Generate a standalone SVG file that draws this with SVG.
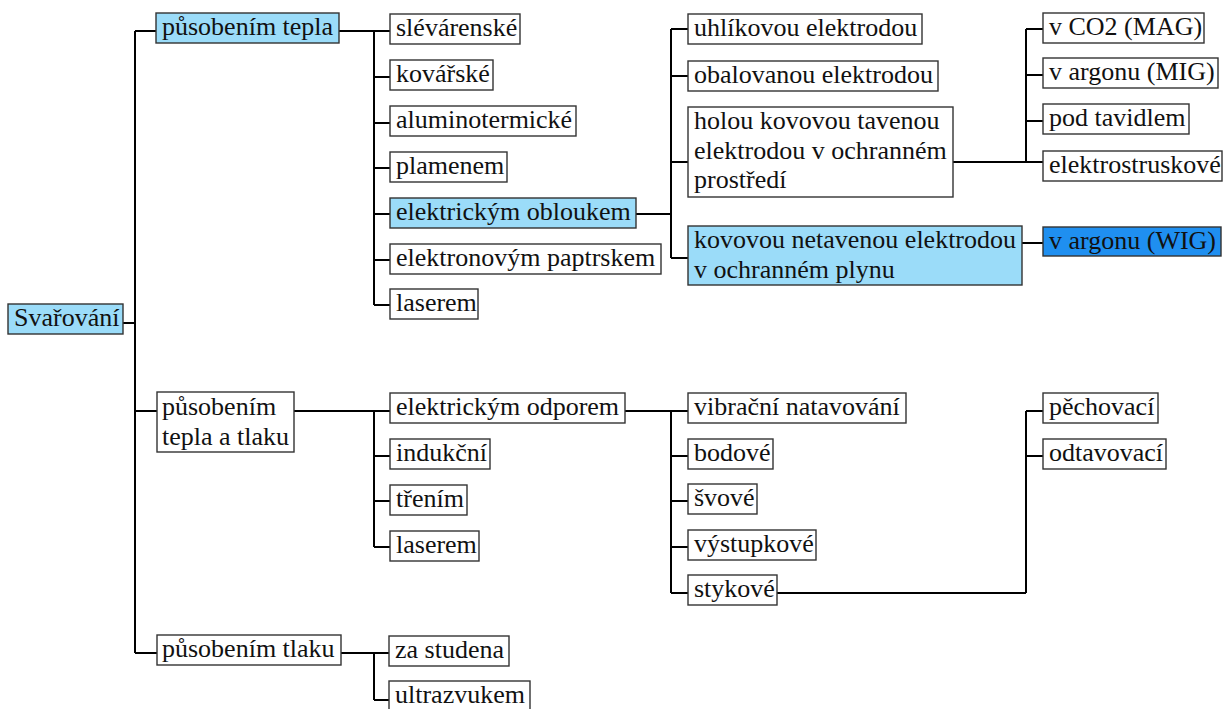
<svg xmlns="http://www.w3.org/2000/svg" width="1228" height="709" viewBox="0 0 1228 709">
<style>
.b{fill:#fff;stroke:#333;stroke-width:1.4}
.lb{fill:#9bdcf9;stroke:#333;stroke-width:1.4}
.db{fill:#1f8ff0;stroke:#333;stroke-width:1.4}
.c{fill:none;stroke:#000;stroke-width:2}
</style>
<rect width="1228" height="709" fill="#fff"/>
<g id="connectors" class="c">
<path d="M135,31V653M135,31H156M123,323H135M135,411H157M135,653H157"/>
<path d="M339,31H390M374,31V305M374,77H390M374,123H390M374,168H390M374,214H390M374,260H390M374,305H390"/>
<path d="M636,214H671M671,29V258M671,29H688M671,76H688M671,162H688M671,258H688"/>
<path d="M953,162H1043M1026,29V162M1026,29H1043M1026,75H1043M1026,121H1043"/>
<path d="M1022,243H1043"/>
<path d="M294,411H390M374,411V547M374,456H390M374,501H390M374,547H390"/>
<path d="M625,411H688M671,411V593M671,456H688M671,501H688M671,547H688M671,593H688"/>
<path d="M777,593H1026M1026,411V593M1026,411H1043M1026,456H1043"/>
<path d="M341,653H389M374,653V700M374,700H389"/>
</g>
<g font-family="Liberation Serif, Times New Roman, serif" font-size="26" fill="#111">
<g id="n-svarovani"><rect class="lb" x="8" y="304" width="115" height="30"/><text x="14" y="326">Svařování</text></g>
<g id="n-tepla"><rect class="lb" x="156" y="13" width="183" height="30"/><text x="162" y="35">působením tepla</text></g>
<g id="n-tepla-tlaku"><rect class="b" x="157" y="392" width="137" height="60"/><text x="162" y="415">působením</text><text x="162" y="445">tepla a tlaku</text></g>
<g id="n-tlaku"><rect class="b" x="157" y="635" width="184" height="30"/><text x="162" y="657">působením tlaku</text></g>

<g id="n-slevarenske"><rect class="b" x="390" y="14" width="130" height="30"/><text x="396" y="36">slévárenské</text></g>
<g id="n-kovarske"><rect class="b" x="390" y="60" width="103" height="30"/><text x="396" y="82">kovářské</text></g>
<g id="n-aluminotermicke"><rect class="b" x="390" y="106" width="186" height="30"/><text x="396" y="128">aluminotermické</text></g>
<g id="n-plamenem"><rect class="b" x="390" y="152" width="117" height="30"/><text x="396" y="174">plamenem</text></g>
<g id="n-obloukem"><rect class="lb" x="390" y="198" width="246" height="30"/><text x="396" y="220">elektrickým obloukem</text></g>
<g id="n-paprskem"><rect class="b" x="390" y="244" width="271" height="30"/><text x="396" y="266">elektronovým paptrskem</text></g>
<g id="n-laserem1"><rect class="b" x="390" y="289" width="88" height="30"/><text x="396" y="311">laserem</text></g>

<g id="n-odporem"><rect class="b" x="390" y="393" width="235" height="30"/><text x="396" y="415">elektrickým odporem</text></g>
<g id="n-indukcni"><rect class="b" x="390" y="439" width="100" height="30"/><text x="396" y="461">indukční</text></g>
<g id="n-trenim"><rect class="b" x="390" y="485" width="77" height="30"/><text x="396" y="507">třením</text></g>
<g id="n-laserem2"><rect class="b" x="390" y="531" width="89" height="30"/><text x="396" y="553">laserem</text></g>
<g id="n-studena"><rect class="b" x="389" y="636" width="120" height="30"/><text x="395" y="658">za studena</text></g>
<g id="n-ultrazvukem"><rect class="b" x="389" y="681" width="141" height="30"/><text x="395" y="703">ultrazvukem</text></g>

<g id="n-uhlikovou"><rect class="b" x="688" y="14" width="234" height="30"/><text x="694" y="36">uhlíkovou elektrodou</text></g>
<g id="n-obalovanou"><rect class="b" x="688" y="61" width="250" height="30"/><text x="694" y="83">obalovanou elektrodou</text></g>
<g id="n-holou"><rect class="b" x="688" y="107" width="265" height="90"/><text x="694" y="129">holou kovovou tavenou</text><text x="694" y="159">elektrodou v ochranném</text><text x="694" y="188">prostředí</text></g>
<g id="n-kovovou"><rect class="lb" x="688" y="226" width="334" height="59"/><text x="694" y="248">kovovou netavenou elektrodou</text><text x="694" y="278">v ochranném plynu</text></g>

<g id="n-vibracni"><rect class="b" x="688" y="393" width="218" height="30"/><text x="694" y="415">vibrační natavování</text></g>
<g id="n-bodove"><rect class="b" x="688" y="439" width="85" height="30"/><text x="694" y="461">bodové</text></g>
<g id="n-svove"><rect class="b" x="688" y="484" width="69" height="30"/><text x="694" y="506">švové</text></g>
<g id="n-vystupkove"><rect class="b" x="688" y="530" width="128" height="30"/><text x="694" y="552">výstupkové</text></g>
<g id="n-stykove"><rect class="b" x="688" y="575" width="89" height="30"/><text x="694" y="597">stykové</text></g>

<g id="n-mag"><rect class="b" x="1043" y="13" width="161" height="30"/><text x="1049" y="35">v CO2 (MAG)</text></g>
<g id="n-mig"><rect class="b" x="1043" y="58" width="175" height="30"/><text x="1049" y="80">v argonu (MIG)</text></g>
<g id="n-tavidlem"><rect class="b" x="1043" y="104" width="146" height="30"/><text x="1049" y="126">pod tavidlem</text></g>
<g id="n-elektrostruskove"><rect class="b" x="1043" y="151" width="179" height="30"/><text x="1049" y="173">elektrostruskové</text></g>
<g id="n-wig"><rect class="db" x="1043" y="227" width="178" height="29"/><text x="1049" y="249">v argonu (WIG)</text></g>

<g id="n-pechovaci"><rect class="b" x="1043" y="393" width="115" height="30"/><text x="1049" y="415">pěchovací</text></g>
<g id="n-odtavovaci"><rect class="b" x="1043" y="439" width="123" height="30"/><text x="1049" y="461">odtavovací</text></g>
</g>
</svg>
